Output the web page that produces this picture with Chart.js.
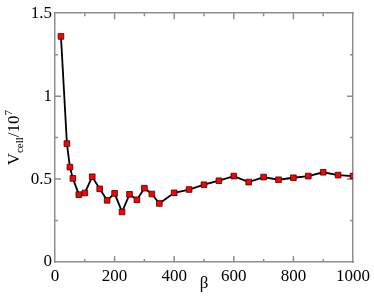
<!DOCTYPE html>
<html>
<head>
<meta charset="utf-8">
<script src="https://cdn.jsdelivr.net/npm/chart.js@4/dist/chart.umd.min.js"></script>
<style>
html,body{margin:0;padding:0;background:#fff;}
#wrap{width:374px;height:299px;position:relative;}
</style>
</head>
<body>
<div id="wrap"><canvas id="c" width="374" height="299"></canvas></div>
<script>
// Data
const betaValues = [20,40,50,60,80,100,125,150,175,200,225,250,275,300,325,350,400,450,500,550,600,650,700,750,800,850,900,950,1000];
const vcellValues = [1.36,0.714,0.572,0.504,0.406,0.416,0.514,0.441,0.372,0.414,0.302,0.408,0.375,0.445,0.41,0.353,0.417,0.437,0.466,0.49,0.518,0.482,0.512,0.496,0.508,0.518,0.541,0.524,0.518];
const xTickLabels = ["0","200","400","600","800","1000"];
const yTickLabels = ["0","0.5","1","1.5"];
const xTitle = "β";
const yTitleParts = [["V","main"],["cell","sub"],["/10","main"],["7","sup"]];

const FONT = "'Liberation Serif','Times New Roman',serif";
const AXIS = "#8e8e8e";

const points = betaValues.map((b,i)=>({x:b,y:vcellValues[i]}));

const decor = {
  id:'decor',
  beforeDatasetsDraw(chart){
    const ctx = chart.ctx, a = chart.chartArea;
    const xs = chart.scales.x, ys = chart.scales.y;
    ctx.save();
    ctx.strokeStyle = AXIS; ctx.lineWidth = 1.5;
    ctx.beginPath();
    for(let v=100; v<1000; v+=100){
      const px = xs.getPixelForValue(v);
      const len = (v%200===0)?6:3;
      ctx.moveTo(px,a.bottom); ctx.lineTo(px,a.bottom-len);
      ctx.moveTo(px,a.top); ctx.lineTo(px,a.top+len);
    }
    for(let k=1;k<6;k++){
      const v = k*0.25;
      const py = ys.getPixelForValue(v);
      const len = (k%2===0)?6:3;
      ctx.moveTo(a.left,py); ctx.lineTo(a.left+len,py);
      ctx.moveTo(a.right,py); ctx.lineTo(a.right-len,py);
    }
    ctx.stroke();
    ctx.restore();
  },
  afterDraw(chart){
    const ctx = chart.ctx, a = chart.chartArea;
    ctx.save();
    ctx.fillStyle = '#000';
    ctx.font = "17px " + FONT;
    ctx.textAlign = 'center'; ctx.textBaseline = 'alphabetic';
    ctx.fillText(xTitle, (a.left+a.right)/2, 288);
    const mainF = "17px " + FONT, smallF = "11px " + FONT;
    let total = 0;
    const widths = yTitleParts.map(([t,k])=>{ctx.font = (k==='main')?mainF:smallF; const w=ctx.measureText(t).width; total+=w; return w;});
    ctx.translate(19,(a.top+a.bottom)/2);
    ctx.rotate(-Math.PI/2);
    ctx.textAlign='left';
    let x = -total/2;
    yTitleParts.forEach(([t,k],i)=>{
      ctx.font = (k==='main')?mainF:smallF;
      const dy = k==='sub'?4:(k==='sup'?-7:0);
      ctx.fillText(t,x,dy);
      x += widths[i];
    });
    ctx.restore();
  }
};

new Chart(document.getElementById('c'),{
  type:'line',
  data:{datasets:[{
    data:points,
    borderColor:'#000',
    borderWidth:1.8,
    pointStyle:'rect',
    pointRadius:4,
    pointBackgroundColor:'#ff0000',
    pointBorderColor:'#3a0000',
    pointBorderWidth:0.8,
    tension:0,
    fill:false
  }]},
  options:{
    responsive:false,
    animation:false,
    events:[],
    layout:{padding:0},
    plugins:{legend:{display:false},tooltip:{enabled:false}},
    scales:{
      x:{type:'linear',position:'bottom',min:0,max:1000,
        afterFit(s){s.height=37;},
        grid:{display:false,drawTicks:false},
        border:{display:true,color:AXIS,width:1.5},
        ticks:{stepSize:200,padding:4,color:'#000',font:{family:FONT,size:17},maxRotation:0,
          callback:(v)=>{const i=xTickLabels.indexOf(String(v));return i>=0?xTickLabels[i]:'';}}
      },
      x2:{type:'linear',position:'top',min:0,max:1000,
        afterFit(s){s.height=7;},
        grid:{display:false,drawTicks:false},
        border:{display:true,color:AXIS,width:1.5},
        ticks:{display:false}
      },
      y:{type:'linear',position:'left',min:0,max:1.5,
        afterFit(s){s.width=55;},
        grid:{display:false,drawTicks:false},
        border:{display:true,color:AXIS,width:1.5},
        ticks:{stepSize:0.5,padding:3,color:'#000',font:{family:FONT,size:17},
          callback:(v)=>{const s=String(v);return yTickLabels.includes(s)?s:'';}}
      },
      y2:{type:'linear',position:'right',min:0,max:1.5,
        afterFit(s){s.width=18;},
        grid:{display:false,drawTicks:false},
        border:{display:true,color:AXIS,width:1.5},
        ticks:{display:false}
      }
    }
  },
  plugins:[decor]
});
</script>
</body>
</html>
